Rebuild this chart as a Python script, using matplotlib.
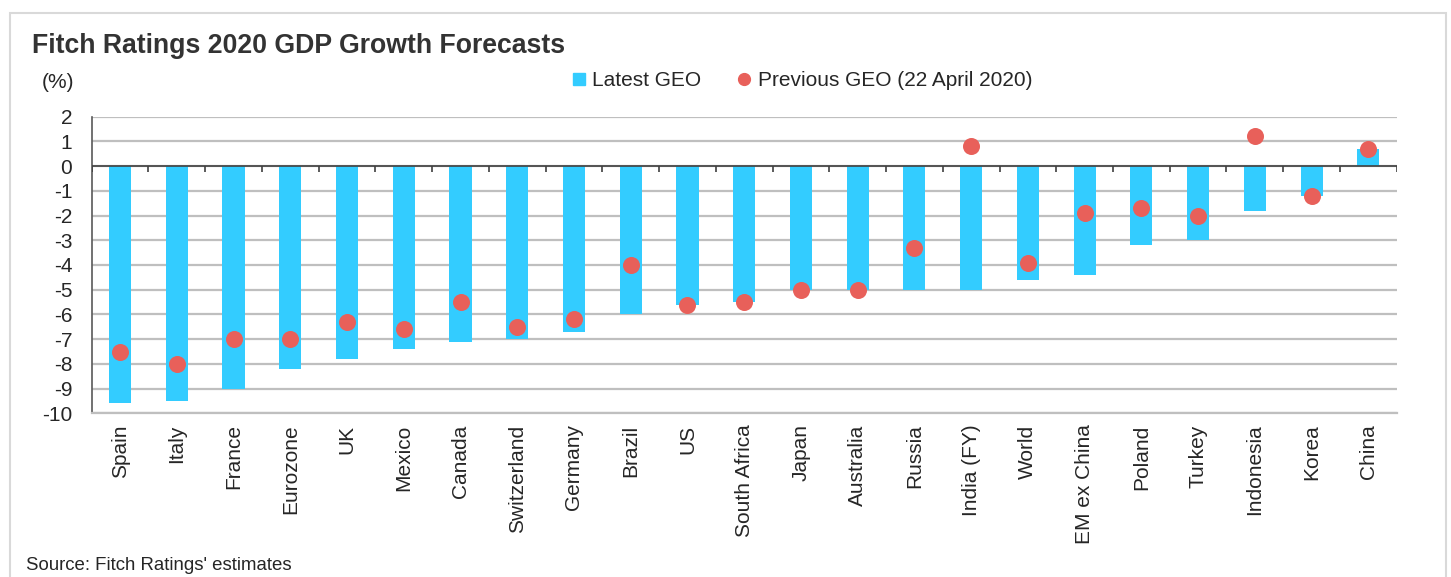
import numpy as np
import matplotlib.pyplot as plt
from matplotlib.lines import Line2D

plt.rcParams['font.family'] = ['Liberation Sans', 'DejaVu Sans']

countries = ["Spain", "Italy", "France", "Eurozone", "UK", "Mexico", "Canada",
             "Switzerland", "Germany", "Brazil", "US", "South Africa", "Japan",
             "Australia", "Russia", "India (FY)", "World", "EM ex China",
             "Poland", "Turkey", "Indonesia", "Korea", "China"]
latest_geo = [-9.6, -9.5, -9.0, -8.2, -7.8, -7.4, -7.1, -7.0, -6.7, -6.0, -5.6,
              -5.5, -5.0, -5.0, -5.0, -5.0, -4.6, -4.4, -3.2, -3.0, -1.8, -1.2, 0.7]
previous_geo = [-7.5, -8.0, -7.0, -7.0, -6.3, -6.6, -5.5, -6.5, -6.2, -4.0, -5.6,
                -5.5, -5.0, -5.0, -3.3, 0.8, -3.9, -1.9, -1.7, -2.0, 1.2, -1.2, 0.7]
yticks = list(range(2, -11, -1))

bar_col = "#33CCFF"
dot_col = "#E8605A"
grid_col = "#BFBFBF"
txt_col = "#262626"

W, H = 1451, 577
fig = plt.figure(figsize=(W / 100, H / 100), dpi=100)
ax = fig.add_axes([91.7 / W, 1 - 413.3 / H, (1396.7 - 91.7) / W, (413.3 - 116.7) / H])

x = np.arange(len(countries))
ax.bar(x, latest_geo, width=0.39, color=bar_col, zorder=2)
ax.scatter(x, previous_geo, s=150, color=dot_col, zorder=3, linewidths=0)

ax.set_xlim(-0.5, len(countries) - 0.5)
ax.set_ylim(-10, 2)
ax.set_yticks(yticks)
ax.set_yticklabels([str(v) for v in yticks])
ax.yaxis.grid(True, color=grid_col, linewidth=1.6, zorder=0)
ax.set_axisbelow(True)
ax.tick_params(axis='y', length=0, labelsize=15, colors=txt_col, pad=14)

ax.set_xticks(x)
ax.set_xticklabels(countries, rotation=90, fontsize=15, color=txt_col)
ax.tick_params(axis='x', length=0, pad=8)

for s in ['top', 'right']:
    ax.spines[s].set_visible(False)
ax.spines['bottom'].set_color(grid_col)
ax.spines['bottom'].set_linewidth(1.6)
ax.spines['left'].set_color("#595959")
ax.spines['left'].set_linewidth(1.2)

# zero line with category separator ticks
ax.axhline(0, color="#404040", linewidth=1.2, zorder=4)
ax.vlines(np.arange(len(countries) + 1) - 0.5, -0.24, 0, color="#404040",
          linewidth=1.2, zorder=4)

fig.text(32 / W, 1 - 46 / H, "Fitch Ratings 2020 GDP Growth Forecasts",
         fontsize=19.2, fontweight='bold', color="#333333", va='center')
fig.text(42 / W, 1 - 83 / H, "(%)", fontsize=15, color=txt_col, va='center')
fig.text(26 / W, 1 - 566 / H, "Source: Fitch Ratings' estimates",
         fontsize=13.4, color=txt_col, va='center')

handles = [Line2D([], [], marker='s', linestyle='none', color=bar_col, markersize=8),
           Line2D([], [], marker='o', linestyle='none', color=dot_col, markersize=8.5)]
fig.legend(handles, ["Latest GEO", "Previous GEO (22 April 2020)"], loc='center',
           bbox_to_anchor=(802 / W, 1 - 81 / H), ncol=2, frameon=False,
           fontsize=15, handletextpad=0.3, columnspacing=1.7, handlelength=0.7,
           labelcolor=txt_col)

frame = plt.Rectangle((10 / W, -0.1), 1436 / W, 1.1 - 13 / H, transform=fig.transFigure,
                      fill=False, edgecolor="#D9D9D9", linewidth=1.5)
fig.patches.append(frame)

fig.savefig("out.png", dpi=100)
